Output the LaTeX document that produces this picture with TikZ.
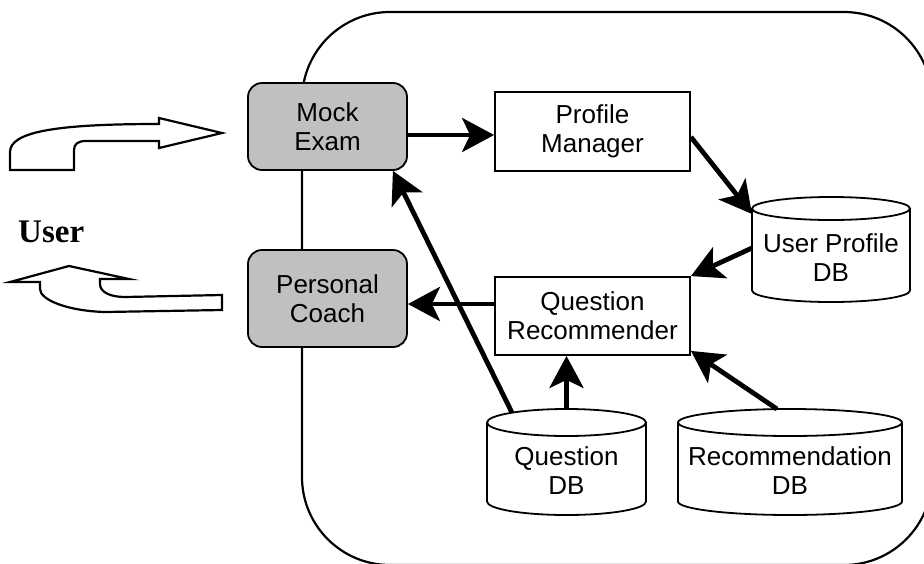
\documentclass[tikz,border=0pt]{standalone}
\usepackage{fontspec}
\setmainfont{Liberation Sans}
\newfontfamily\userfont{Liberation Serif}
\usetikzlibrary{arrows.meta,calc}
\definecolor{uigray}{RGB}{192,192,192}
% raises the first text line so the label sits in the body of a database drum
\newcommand\dbtop{\rule{0pt}{35.4pt}}
% outline of a database drum around a named node: node, x radius, y radius
\newcommand\drawdb[3]{%
  \draw[dbline] ([yshift=-#3pt]#1.north) ellipse[x radius=#2, y radius=#3]
    ([yshift=-#3pt]#1.north west) -- ([yshift=#3pt]#1.south west)
    arc[start angle=180, end angle=0, x radius=#2, y radius=#3]
    -- ([yshift=-#3pt]#1.north east);}
\begin{document}
\begin{tikzpicture}[x=1pt, y=-1pt,
  every node/.style={font=\fontsize{26}{29}\selectfont, align=center, inner sep=0pt},
  frame/.style={line width=2.2pt},
  box/.style={draw, line width=1.8pt, minimum width=195pt, minimum height=79pt},
  comp/.style={draw, line width=1.8pt, fill=uigray, rounded corners=14pt, minimum width=159pt},
  db/.style={outer sep=0pt, minimum height=106pt},
  dbline/.style={line width=1.8pt},
  conn/.style={line width=4.8pt, -{Stealth[length=32pt, width=34pt, inset=8pt]}},
  bigarrow/.style={line width=2.2pt, line join=miter}]

\useasboundingbox (0,0) rectangle (924,563);
\clip (0,0) rectangle (924,563);

% system boundary
\draw[frame, rounded corners=88pt] (302,12) rectangle (932,565);

% user-facing components
\node[comp, minimum height=87pt] (mock) at (327.5,126.5) {Mock\\Exam};
\node[comp, minimum height=97pt] (coach) at (327.5,298.5) {Personal\\Coach};

% internal modules
\node[box] (pm) at (592.5,131.5) {Profile\\Manager};
\node[box, minimum height=78pt] (qr) at (592.5,316) {Question\\Recommender};

% databases
\node[db, minimum width=158pt, minimum height=105pt] (updb) at (831,249.5) {\dbtop User Profile\\DB};
\node[db, minimum width=159pt] (qdb) at (566.5,462) {\dbtop Question\\DB};
\node[db, minimum width=224pt] (rdb) at (790,462) {\dbtop Recommendation\\DB};
\drawdb{updb}{79}{11.5}
\drawdb{qdb}{79.5}{13.5}
\drawdb{rdb}{112}{13.5}

% user side
\node[font=\userfont\fontsize{33}{36}\selectfont\bfseries, anchor=base west] (user) at (18,242) {User};
\draw[bigarrow] (10,170) -- (10,152) .. controls (10,131) and (60,124) .. (159,124)
  -- (159,118) -- (222,133) -- (159,148) -- (159,141) -- (86,141)
  .. controls (78,141) and (74,144) .. (74,150) -- (74,170) -- cycle;
\draw[bigarrow] (10,282) -- (69,266) -- (129,279) -- (100,279) -- (100,284)
  .. controls (100,292) and (110,297) .. (125,297) -- (222,295) -- (222,310)
  -- (105,312) .. controls (68,311) and (40,300) .. (40,289) -- (40,282) -- cycle;

% data flow
\coordinate (mp) at ([yshift=-3.5pt]pm.west);
\draw[conn] (mp -| mock.east) -- (mp);
\draw[conn] ([yshift=-5.5pt]pm.east) -- ([yshift=-17pt]updb.north west);
\draw[conn] ([yshift=1.5pt]updb.west) -- (qr.north east);
\coordinate (qc) at ([yshift=12pt]qr.west);
\draw[conn] (qc) -- (qc -| coach.east);
\draw[conn] ([shift={(-54.5,3.7)}]qdb.north) -- ([xshift=-15pt]mock.south east);
\draw[conn] (qdb.north) -- (qdb.north |- qr.south);
\draw[conn] ([xshift=-13pt]rdb.north) -- ([yshift=5pt]qr.south east);
\end{tikzpicture}
\end{document}
